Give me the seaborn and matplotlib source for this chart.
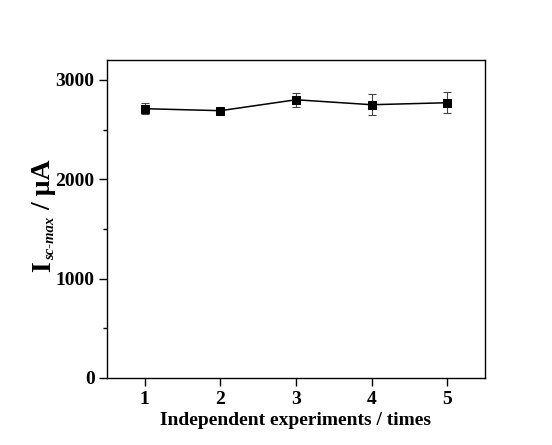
import matplotlib
matplotlib.use("Agg")
import matplotlib.pyplot as plt
from matplotlib.ticker import MultipleLocator
import seaborn as sns
import pandas as pd

experiments = [1, 2, 3, 4, 5]
isc_max = [2710, 2690, 2800, 2750, 2770]
isc_err = [55, 20, 72, 108, 108]

sns.set_theme(style="ticks")
plt.rcParams["font.family"] = ["Liberation Serif", "DejaVu Serif"]
plt.rcParams["font.weight"] = "bold"
plt.rcParams["text.color"] = "black"
plt.rcParams["axes.labelcolor"] = "black"
plt.rcParams["xtick.color"] = "black"
plt.rcParams["ytick.color"] = "black"

df = pd.DataFrame({"run": experiments, "isc": isc_max, "err": isc_err})

W, H = 552, 445
fig = plt.figure(figsize=(W / 100, H / 100), dpi=100)
ax = fig.add_axes([107 / W, 1 - 378 / H, 378 / W, 318 / H])

ax.errorbar(df["run"], df["isc"], yerr=df["err"], fmt="none",
            ecolor="#444444", elinewidth=0.8, capsize=2.8, capthick=0.8, zorder=2)
sns.lineplot(data=df, x="run", y="isc", ax=ax, color="black", linewidth=1.1,
             marker="s", markersize=5.8, markeredgecolor="black",
             markerfacecolor="black", zorder=3)

ax.set_xlim(0.5, 5.5)
ax.set_ylim(0, 3200)
ax.set_xticks(experiments)
ax.yaxis.set_major_locator(MultipleLocator(1000))
ax.yaxis.set_minor_locator(MultipleLocator(500))

for s in ax.spines.values():
    s.set_linewidth(1.0)
    s.set_color("black")

ax.tick_params(axis="both", which="major", direction="out", length=5.5,
               width=1.0, labelsize=14, colors="black")
ax.tick_params(axis="y", which="minor", direction="out", length=3.2, width=1.0)
for lab in ax.get_xticklabels() + ax.get_yticklabels():
    lab.set_fontweight("bold")

ax.set_xlabel("Independent experiments / times", fontsize=14,
              fontweight="bold", labelpad=3, color="black")
ax.set_ylabel("")

# y-axis title built from rotated pieces: "I", italic subscript, " / μA"
fig.canvas.draw()
renderer = fig.canvas.get_renderer()
base_x = 50
cur_y = H - 272
pieces = [
    ("I", 20, "normal", 0, 1),
    ("sc-max", 10.5, "italic", 4, 7),
    ("/ μA", 20, "normal", 0, 0),
]
for txt, size, style, shift, gap in pieces:
    t = fig.text((base_x + shift) / W, cur_y / H, txt, fontsize=size,
                 fontweight="bold", fontstyle=style, color="black",
                 rotation=90, rotation_mode="anchor",
                 ha="left", va="baseline")
    cur_y += t.get_window_extent(renderer).height + gap

fig.savefig("out.png", dpi=100)
